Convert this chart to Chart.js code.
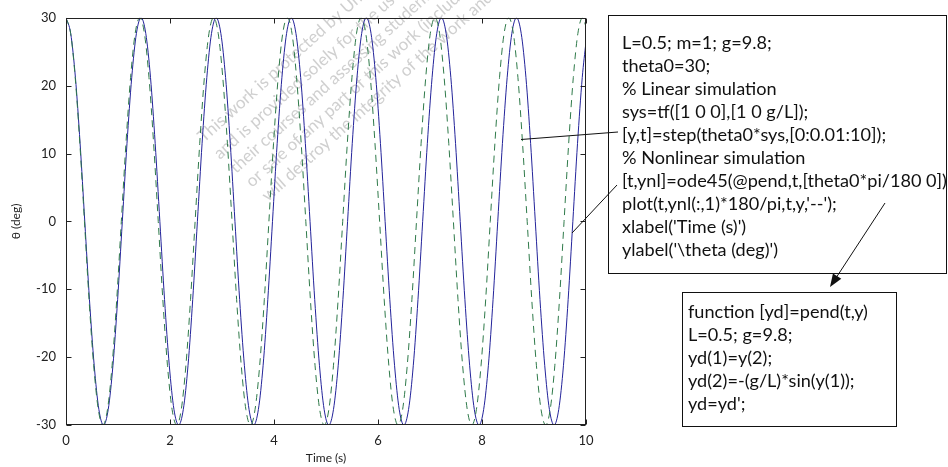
<!DOCTYPE html>
<html>
<head>
<meta charset="utf-8">
<script src="https://cdn.jsdelivr.net/npm/chart.js@4/dist/chart.umd.min.js"></script>
<style>
html,body{margin:0;padding:0;background:#fff;}
#wrap{width:948px;height:467px;position:relative;}
</style>
</head>
<body>
<div id="wrap"><canvas id="c" width="948" height="467"></canvas></div>
<script>
// ---- Data ----
// Linear simulation (dashed green): time samples (s)
const linearTime = [
0,0.089,0.177,0.266,0.355,0.443,0.532,0.621,0.710,0.798,0.887,0.976,1.064,1.153,1.242,1.330,
1.419,1.508,1.596,1.685,1.774,1.862,1.951,2.040,2.129,2.217,2.306,2.395,2.483,2.572,2.661,2.749,
2.838,2.927,3.015,3.104,3.193,3.281,3.370,3.459,3.548,3.636,3.725,3.814,3.902,3.991,4.080,4.168,
4.257,4.346,4.434,4.523,4.612,4.700,4.789,4.878,4.967,5.055,5.144,5.233,5.321,5.410,5.499,5.587,
5.676,5.765,5.853,5.942,6.031,6.119,6.208,6.297,6.386,6.474,6.563,6.652,6.740,6.829,6.918,7.006,
7.095,7.184,7.272,7.361,7.450,7.538,7.627,7.716,7.805,7.893,7.982,8.071,8.159,8.248,8.337,8.425,
8.514,8.603,8.691,8.780,8.869,8.957,9.046,9.135,9.224,9.312,9.401,9.490,9.578,9.667,9.756,9.844,
9.933,10
];
// Linear simulation theta (deg)
const linearTheta = [
30,27.7,21.2,11.5,0,-11.5,-21.2,-27.7,-30,-27.7,-21.2,-11.5,0,11.5,21.2,27.7,
30,27.7,21.2,11.5,0,-11.5,-21.2,-27.7,-30,-27.7,-21.2,-11.5,0,11.5,21.2,27.7,
30,27.7,21.2,11.5,0,-11.5,-21.2,-27.7,-30,-27.7,-21.2,-11.5,0,11.5,21.2,27.7,
30,27.7,21.2,11.5,0,-11.5,-21.2,-27.7,-30,-27.7,-21.2,-11.5,0,11.5,21.2,27.7,
30,27.7,21.2,11.5,0,-11.5,-21.2,-27.7,-30,-27.7,-21.2,-11.5,0,11.5,21.2,27.7,
30,27.7,21.2,11.5,0,-11.5,-21.2,-27.7,-30,-27.7,-21.2,-11.5,0,11.5,21.2,27.7,
30,27.7,21.2,11.5,0,-11.5,-21.2,-27.7,-30,-27.7,-21.2,-11.5,0,11.5,21.2,27.7,
30,28.7
];
// Nonlinear simulation (solid blue): time samples (s)
const nonlinearTime = [
0,0.090,0.181,0.271,0.361,0.451,0.542,0.632,0.722,0.812,0.903,0.993,1.083,1.173,1.264,1.354,
1.444,1.534,1.625,1.715,1.805,1.895,1.986,2.076,2.166,2.256,2.347,2.437,2.527,2.617,2.708,2.798,
2.888,2.978,3.069,3.159,3.249,3.339,3.430,3.520,3.610,3.700,3.791,3.881,3.971,4.061,4.152,4.242,
4.332,4.422,4.513,4.603,4.693,4.783,4.874,4.964,5.054,5.144,5.235,5.325,5.415,5.505,5.596,5.686,
5.776,5.866,5.957,6.047,6.137,6.227,6.318,6.408,6.498,6.588,6.679,6.769,6.859,6.949,7.040,7.130,
7.220,7.310,7.401,7.491,7.581,7.671,7.762,7.852,7.942,8.032,8.123,8.213,8.303,8.393,8.484,8.574,
8.664,8.754,8.845,8.935,9.025,9.115,9.206,9.296,9.386,9.476,9.567,9.657,9.747,9.837,9.928,10
];
// Nonlinear simulation theta (deg)
const nonlinearTheta = [
30,27.7,21.2,11.5,0,-11.5,-21.2,-27.7,-30,-27.7,-21.2,-11.5,0,11.5,21.2,27.7,
30,27.7,21.2,11.5,0,-11.5,-21.2,-27.7,-30,-27.7,-21.2,-11.5,0,11.5,21.2,27.7,
30,27.7,21.2,11.5,0,-11.5,-21.2,-27.7,-30,-27.7,-21.2,-11.5,0,11.5,21.2,27.7,
30,27.7,21.2,11.5,0,-11.5,-21.2,-27.7,-30,-27.7,-21.2,-11.5,0,11.5,21.2,27.7,
30,27.7,21.2,11.5,0,-11.5,-21.2,-27.7,-30,-27.7,-21.2,-11.5,0,11.5,21.2,27.7,
30,27.7,21.2,11.5,0,-11.5,-21.2,-27.7,-30,-27.7,-21.2,-11.5,0,11.5,21.2,27.7,
30,27.7,21.2,11.5,0,-11.5,-21.2,-27.7,-30,-27.7,-21.2,-11.5,0,11.5,21.2,26.5
];
const xTicks = [0,2,4,6,8,10];
const yTicks = [-30,-20,-10,0,10,20,30];
const xTitle = 'Time (s)';
const yTitle = 'θ (deg)';
const mainCode = [
"L=0.5; m=1; g=9.8;",
"theta0=30;",
"% Linear simulation",
"sys=tf([1 0 0],[1 0 g/L]);",
"[y,t]=step(theta0*sys,[0:0.01:10]);",
"% Nonlinear simulation",
"[t,ynl]=ode45(@pend,t,[theta0*pi/180 0])",
"plot(t,ynl(:,1)*180/pi,t,y,'--');",
"xlabel('Time (s)')",
"ylabel('\\theta (deg)')"
];
const funcCode = [
"function [yd]=pend(t,y)",
"L=0.5; g=9.8;",
"yd(1)=y(2);",
"yd(2)=-(g/L)*sin(y(1));",
"yd=yd';"
];
const watermark = [
"This work is protected by United States copyright laws",
"and is provided solely for the use of instructors in teaching",
"their courses and assessing student learning. Dissemination",
"or sale of any part of this work (including on the World Wide Web)",
"will destroy the integrity of the work and is not permitted."
];

const FONT = 'Lato, "Liberation Sans", Arial, sans-serif';

const toXY = (xs, ys) => xs.map((x, i) => ({x: x, y: ys[i]}));

const overlay = {
  id: 'overlay',
  beforeDraw(chart) {
    const ctx = chart.ctx;
    ctx.save();
    ctx.fillStyle = '#fff';
    ctx.fillRect(0, 0, chart.width, chart.height);
    // watermark
    ctx.fillStyle = 'rgba(175,175,175,0.6)';
    ctx.font = '17px ' + FONT;
    ctx.textBaseline = 'alphabetic';
    ctx.textAlign = 'left';
    const starts = [[204,143],[220,160],[236,174],[252,188],[268,202]];
    watermark.forEach((s, i) => {
      ctx.save();
      ctx.translate(starts[i][0], starts[i][1]);
      ctx.rotate(-42 * Math.PI / 180);
      ctx.fillText(s, 0, 0);
      ctx.restore();
    });
    ctx.restore();
  },
  afterDraw(chart) {
    const ctx = chart.ctx;
    const a = chart.chartArea;
    const xs = chart.scales.x, ys = chart.scales.y;
    ctx.save();
    ctx.strokeStyle = '#222';
    ctx.lineWidth = 1;
    const L = Math.round(a.left) + 0.5, R = Math.round(a.right) - 0.5;
    const T = Math.round(a.top) + 0.5, B = Math.round(a.bottom) - 0.5;
    ctx.strokeRect(L, T, R - L, B - T);
    const tl = 5;
    ctx.beginPath();
    xTicks.forEach(v => {
      const px = Math.round(xs.getPixelForValue(v)) + 0.5;
      ctx.moveTo(px, B); ctx.lineTo(px, B - tl);
      ctx.moveTo(px, T); ctx.lineTo(px, T + tl);
    });
    yTicks.forEach(v => {
      const py = Math.round(ys.getPixelForValue(v)) + 0.5;
      ctx.moveTo(L, py); ctx.lineTo(L + tl, py);
      ctx.moveTo(R, py); ctx.lineTo(R - tl, py);
    });
    ctx.stroke();

    // axis titles
    ctx.fillStyle = '#222';
    ctx.font = '12px ' + FONT;
    ctx.textAlign = 'center';
    ctx.textBaseline = 'middle';
    ctx.fillText(xTitle, (a.left + a.right) / 2, 458);
    ctx.save();
    ctx.translate(16, (a.top + a.bottom) / 2);
    ctx.rotate(-Math.PI / 2);
    ctx.fillText(yTitle, 0, 0);
    ctx.restore();

    // code boxes
    ctx.strokeStyle = '#111';
    ctx.strokeRect(608.5, 15.5, 338, 258);
    ctx.strokeRect(682.5, 292.5, 214, 134);

    // fit font to the longest line width
    let fs = 15;
    ctx.font = fs + 'px ' + FONT;
    const w = ctx.measureText(mainCode[6]).width;
    fs = fs * 325 / w;
    ctx.font = fs.toFixed(2) + 'px ' + FONT;
    ctx.fillStyle = '#111';
    ctx.textAlign = 'left';
    ctx.textBaseline = 'middle';
    mainCode.forEach((s, i) => ctx.fillText(s, 622, 43 + i * 23));
    funcCode.forEach((s, i) => ctx.fillText(s, 688, 312 + i * 23));

    // leader lines
    ctx.strokeStyle = '#111';
    ctx.lineWidth = 1;
    ctx.beginPath();
    ctx.moveTo(521, 139.5); ctx.lineTo(618, 132);
    ctx.moveTo(572, 233); ctx.lineTo(617, 185);
    ctx.moveTo(885, 203); ctx.lineTo(834, 281);
    ctx.stroke();
    // arrow head
    const tip = [830, 287];
    const ang = Math.atan2(287 - 203, 830 - 885);
    const hl = 13, hw = 5;
    const bx = tip[0] - hl * Math.cos(ang), by = tip[1] - hl * Math.sin(ang);
    ctx.fillStyle = '#111';
    ctx.beginPath();
    ctx.moveTo(tip[0], tip[1]);
    ctx.lineTo(bx + hw * Math.sin(ang), by - hw * Math.cos(ang));
    ctx.lineTo(bx - hw * Math.sin(ang), by + hw * Math.cos(ang));
    ctx.closePath();
    ctx.fill();
    ctx.restore();
  }
};

new Chart(document.getElementById('c'), {
  type: 'line',
  data: {
    datasets: [
      {
        label: 'Linear',
        data: toXY(linearTime, linearTheta),
        borderColor: '#2f7a4a',
        borderWidth: 1,
        borderDash: [7, 5],
        pointRadius: 0,
        fill: false,
        cubicInterpolationMode: 'monotone',
        order: 0
      },
      {
        label: 'Nonlinear',
        data: toXY(nonlinearTime, nonlinearTheta),
        borderColor: '#23239a',
        borderWidth: 1,
        pointRadius: 0,
        fill: false,
        cubicInterpolationMode: 'monotone',
        order: 1
      }
    ]
  },
  options: {
    responsive: false,
    animation: false,
    events: [],
    layout: { padding: { left: 0, top: 14, right: 362, bottom: 0 } },
    plugins: { legend: { display: false }, tooltip: { enabled: false } },
    scales: {
      x: {
        type: 'linear', min: 0, max: 10,
        afterFit(s) { s.height = 42; },
        afterBuildTicks(s) { s.ticks = xTicks.map(v => ({value: v})); },
        grid: { display: false, drawTicks: false },
        border: { display: false },
        ticks: { color: '#222', font: { family: FONT, size: 13 }, padding: 8, maxRotation: 0, autoSkip: false }
      },
      y: {
        type: 'linear', min: -30, max: 30,
        afterFit(s) { s.width = 66; },
        afterBuildTicks(s) { s.ticks = yTicks.map(v => ({value: v})); },
        grid: { display: false, drawTicks: false },
        border: { display: false },
        ticks: { color: '#222', font: { family: FONT, size: 13 }, padding: 10, autoSkip: false }
      }
    }
  },
  plugins: [overlay]
});
</script>
</body>
</html>
